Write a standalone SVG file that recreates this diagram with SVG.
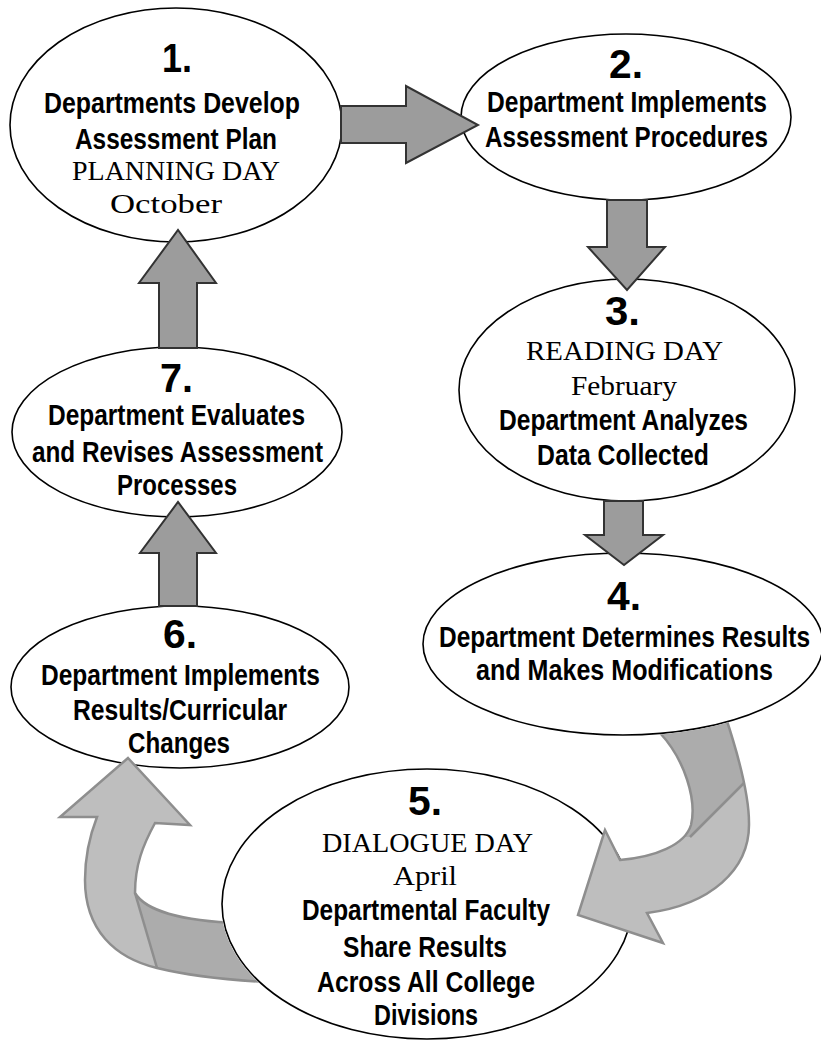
<svg xmlns="http://www.w3.org/2000/svg" width="821" height="1041" viewBox="0 0 821 1041">
<style>
.node ellipse{fill:#fff;stroke:#000;stroke-width:1.6}
.b{font-family:"Liberation Sans",Arial,sans-serif;font-weight:bold;font-size:30px;fill:#000}
.n{font-family:"Liberation Sans",Arial,sans-serif;font-weight:bold;font-size:40px;fill:#000}
.s{font-family:"Liberation Serif","Times New Roman",serif;font-size:27px;fill:#000}
.sa{fill:#9c9c9c;stroke:#333;stroke-width:2;stroke-linejoin:miter}
.cl{fill:#bebebe}
.cd{fill:#acacac}
.co{fill:none;stroke:#8e8e8e;stroke-width:2.5;stroke-linejoin:miter}
</style>
<defs>
<mask id="m5" maskUnits="userSpaceOnUse" x="0" y="0" width="821" height="1041">
<rect x="0" y="0" width="821" height="1041" fill="#fff"/>
<ellipse cx="427" cy="904" rx="206" ry="136" fill="#000"/>
</mask>
<mask id="m4" maskUnits="userSpaceOnUse" x="0" y="0" width="821" height="1041">
<rect x="0" y="0" width="821" height="1041" fill="#fff"/>
<ellipse cx="623" cy="644" rx="201" ry="92" fill="#000"/>
</mask>
<clipPath id="rdark"><polygon points="600,690 821,690 821,723 743,783 690,837 672,837"/></clipPath>
</defs>
<rect width="821" height="1041" fill="#fff"/>
<g id="nodes">
<g id="node1" class="node">
<ellipse cx="176" cy="125" rx="166" ry="117"/>
<text class="n" x="162" y="72" textLength="30" lengthAdjust="spacingAndGlyphs">1.</text>
<text class="b" transform="matrix(0.8 0 0 1 44 113)" textLength="320" lengthAdjust="spacingAndGlyphs">Departments Develop</text>
<text class="b" transform="matrix(0.8 0 0 1 75 149)" textLength="252.5" lengthAdjust="spacingAndGlyphs">Assessment Plan</text>
<text class="s" x="72" y="180" textLength="208" lengthAdjust="spacingAndGlyphs">PLANNING DAY</text>
<text class="s" x="110" y="213" textLength="112" lengthAdjust="spacingAndGlyphs">October</text>
</g>
<g id="node2" class="node">
<ellipse cx="626" cy="117" rx="165" ry="83"/>
<text class="n" x="609" y="78" textLength="34" lengthAdjust="spacingAndGlyphs">2.</text>
<text class="b" transform="matrix(0.8 0 0 1 487 112)" textLength="350" lengthAdjust="spacingAndGlyphs">Department Implements</text>
<text class="b" transform="matrix(0.8 0 0 1 485 147)" textLength="353.75" lengthAdjust="spacingAndGlyphs">Assessment Procedures</text>
</g>
<g id="node3" class="node">
<ellipse cx="627" cy="390" rx="168" ry="111"/>
<text class="n" x="605" y="325" textLength="35" lengthAdjust="spacingAndGlyphs">3.</text>
<text class="s" x="526" y="360" textLength="197" lengthAdjust="spacingAndGlyphs">READING DAY</text>
<text class="s" x="571" y="395" textLength="106" lengthAdjust="spacingAndGlyphs">February</text>
<text class="b" transform="matrix(0.8 0 0 1 499 430)" textLength="311.25" lengthAdjust="spacingAndGlyphs">Department Analyzes</text>
<text class="b" transform="matrix(0.8 0 0 1 537 465)" textLength="215" lengthAdjust="spacingAndGlyphs">Data Collected</text>
</g>
<g id="node4" class="node">
<ellipse cx="623" cy="644" rx="200" ry="91"/>
<text class="n" x="607" y="610" textLength="34" lengthAdjust="spacingAndGlyphs">4.</text>
<text class="b" transform="matrix(0.8 0 0 1 439 647)" textLength="463.75" lengthAdjust="spacingAndGlyphs">Department Determines Results</text>
<text class="b" transform="matrix(0.8 0 0 1 476 680)" textLength="371.25" lengthAdjust="spacingAndGlyphs">and Makes Modifications</text>
</g>
<g id="node5" class="node">
<ellipse cx="427" cy="904" rx="205" ry="135"/>
<text class="n" x="408" y="815" textLength="34" lengthAdjust="spacingAndGlyphs">5.</text>
<text class="s" x="322" y="852" textLength="211" lengthAdjust="spacingAndGlyphs">DIALOGUE DAY</text>
<text class="s" x="393" y="885" textLength="64" lengthAdjust="spacingAndGlyphs">April</text>
<text class="b" transform="matrix(0.8 0 0 1 302 920)" textLength="310" lengthAdjust="spacingAndGlyphs">Departmental Faculty</text>
<text class="b" transform="matrix(0.8 0 0 1 343 957)" textLength="205" lengthAdjust="spacingAndGlyphs">Share Results</text>
<text class="b" transform="matrix(0.8 0 0 1 317 992)" textLength="272.5" lengthAdjust="spacingAndGlyphs">Across All College</text>
<text class="b" transform="matrix(0.8 0 0 1 374 1025)" textLength="130" lengthAdjust="spacingAndGlyphs">Divisions</text>
</g>
<g id="node6" class="node">
<ellipse cx="180" cy="687" rx="169" ry="81"/>
<text class="n" x="163" y="648" textLength="34" lengthAdjust="spacingAndGlyphs">6.</text>
<text class="b" transform="matrix(0.8 0 0 1 41 685)" textLength="348.75" lengthAdjust="spacingAndGlyphs">Department Implements</text>
<text class="b" transform="matrix(0.8 0 0 1 73 720)" textLength="267.5" lengthAdjust="spacingAndGlyphs">Results/Curricular</text>
<text class="b" transform="matrix(0.8 0 0 1 128 753)" textLength="127.5" lengthAdjust="spacingAndGlyphs">Changes</text>
</g>
<g id="node7" class="node">
<ellipse cx="177" cy="432" rx="165" ry="85"/>
<text class="n" x="160" y="392" textLength="33" lengthAdjust="spacingAndGlyphs">7.</text>
<text class="b" transform="matrix(0.8 0 0 1 48 425)" textLength="321.25" lengthAdjust="spacingAndGlyphs">Department Evaluates</text>
<text class="b" transform="matrix(0.8 0 0 1 32 462)" textLength="363.75" lengthAdjust="spacingAndGlyphs">and Revises Assessment</text>
<text class="b" transform="matrix(0.8 0 0 1 117 495)" textLength="150" lengthAdjust="spacingAndGlyphs">Processes</text>
</g>
</g>
<g id="connectors">
<polygon id="e1-2" class="sa" points="341,106 406,106 406,86 478,125 406,163 406,143 341,143"/>
<polygon id="e2-3" class="sa" points="607,200 607,247 588,247 627,290 665,247 647,247 647,200"/>
<polygon id="e3-4" class="sa" points="604,501 604,535 585,535 624,565 663,535 643,535 643,501"/>
<polygon id="e6-7" class="sa" points="159,606 159,553 140,553 178,502 216,553 197,553 197,606"/>
<polygon id="e7-1" class="sa" points="159,348 159,283 139,283 178,230 216,283 197,283 197,348"/>
<g id="e4-5" mask="url(#m4)">
<path class="cl" d="M652,718 L725,715 C735,745 749,790 749,823 C750,870 710,905 647,913 L663,943 L578,915 L605,830 L620,860 C655,857 685,845 691,825 C697,800 685,760 660,733 Z"/>
<path class="cd" clip-path="url(#rdark)" d="M652,718 L725,715 C735,745 749,790 749,823 C750,870 710,905 647,913 L663,943 L578,915 L605,830 L620,860 C655,857 685,845 691,825 C697,800 685,760 660,733 Z"/>
<path class="co" d="M652,718 L725,715 C735,745 749,790 749,823 C750,870 710,905 647,913 L663,943 L578,915 L605,830 L620,860 C655,857 685,845 691,825 C697,800 685,760 660,733 Z"/>
<path class="co" d="M744,783 L690,837"/>
</g>
<g id="e5-6" mask="url(#m5)">
<path class="cl" d="M128,758 L190,825 L155,823 C143,845 135,865 135,893 C145,910 180,921 240,923 L265,982 C230,980 190,976 157,968 C115,958 85,930 85,880 C85,855 90,835 97,817 L60,817 Z"/>
<path class="cd" d="M135,893 C145,910 180,921 240,923 L265,982 C230,980 190,976 157,968 Z"/>
<path class="co" d="M128,758 L190,825 L155,823 C143,845 135,865 135,893 C145,910 180,921 240,923 L265,982 C230,980 190,976 157,968 C115,958 85,930 85,880 C85,855 90,835 97,817 L60,817 Z"/>
<path class="co" d="M135,893 L157,968"/>
</g>
</g>
</svg>
